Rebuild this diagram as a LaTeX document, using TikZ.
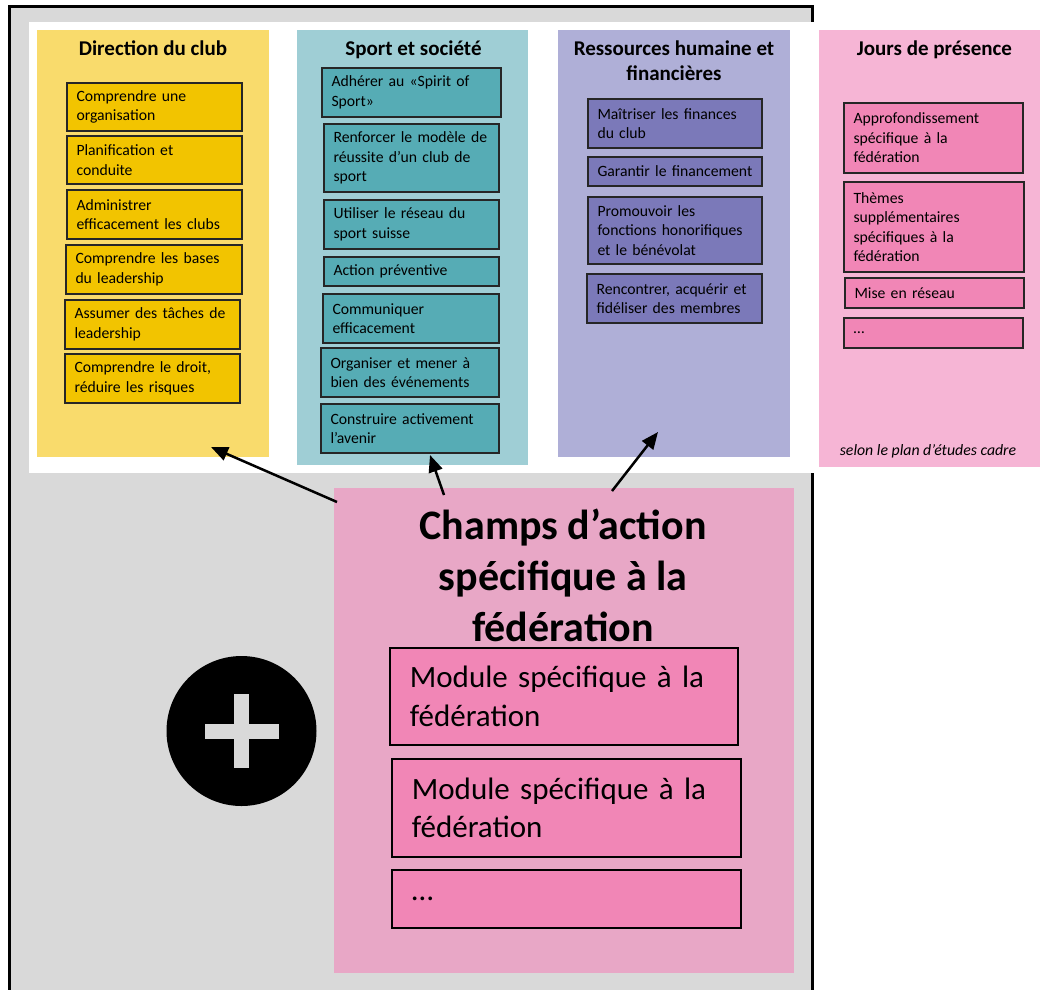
\documentclass[tikz,border=0pt]{standalone}
\usepackage{fontspec}
\setmainfont{Carlito}
\usetikzlibrary{arrows.meta}
\definecolor{bggray}{HTML}{D9D9D9}
\definecolor{ycol}{HTML}{F9DB6C}
\definecolor{yboxc}{HTML}{F2C400}
\definecolor{tcol}{HTML}{9FCED5}
\definecolor{tboxc}{HTML}{56ACB5}
\definecolor{pcol}{HTML}{AFAFD7}
\definecolor{pboxc}{HTML}{7B79B9}
\definecolor{kcol}{HTML}{F6B5D5}
\definecolor{kboxc}{HTML}{F186B6}
\definecolor{bigpink}{HTML}{E8A7C6}
\newcommand\ibx[7]{%
  \pgfmathsetmacro\tw{#5-#3-19}%
  \pgfmathsetmacro\bh{#6-#4}%
  \node[#2, text width=\tw pt, minimum height=\bh pt] (#1) at (#3,#4) {#7};}
\begin{document}
\begin{tikzpicture}[x=1pt,y=-1pt,
  colbox/.style={anchor=north west, inner sep=0pt, outer sep=0pt},
  itembox/.style={anchor=north west, draw=black!85, line width=1.2pt, inner xsep=9.5pt, inner ysep=0pt, outer sep=0pt, align=left, font=\fontsize{15.7}{19.5}\selectfont},
  yb/.style={itembox, fill=yboxc},
  tb/.style={itembox, fill=tboxc},
  pb/.style={itembox, fill=pboxc},
  kb/.style={itembox, fill=kboxc},
  coltitle/.style={anchor=base, inner sep=0pt, font=\fontsize{21}{25}\selectfont\bfseries},
  modbox/.style={anchor=north west, draw=black, line width=1.8pt, fill=kboxc, inner xsep=20pt, inner ysep=0pt, align=left, font=\fontsize{31}{38.5}\selectfont},
  arr/.style={line width=2.5pt, -{Triangle[length=17pt,width=14pt]}}
]
\useasboundingbox (0,0) rectangle (1043,989);
% background frames
\draw[fill=bggray, line width=3pt] (9.5,6.5) rectangle (812,1000);
\fill[white] (29,22) rectangle (1043,473);
% columns
\node[colbox, fill=ycol, minimum width=232pt, minimum height=427pt] (c1) at (37,30) {};
\node[colbox, fill=tcol, minimum width=231pt, minimum height=435pt] (c2) at (297,30) {};
\node[colbox, fill=pcol, minimum width=232pt, minimum height=427pt] (c3) at (558,30) {};
\node[colbox, fill=kcol, minimum width=221pt, minimum height=437pt] (c4) at (819,30) {};
% titles
\node[coltitle] (t1) at (153,55) {Direction du club};
\node[coltitle] (t2) at (413.5,55) {Sport et société};
\node[coltitle] (t3a) at (674,55) {Ressources humaine et};
\node[coltitle] (t3b) at (674,80) {financières};
\node[coltitle] (t4) at (934.5,55) {Jours de présence};
\node[anchor=base, inner sep=0pt, font=\fontsize{15.8}{18}\selectfont\itshape] (note) at (928,455) {selon le plan d'études cadre};
% yellow items
\ibx{y1}{yb}{67}{83}{242}{131}{Comprendre une\\organisation}
\ibx{y2}{yb}{67}{136}{242}{184}{Planification et\\conduite}
\ibx{y3}{yb}{67}{190}{242}{239}{Administrer\\efficacement les clubs}
\ibx{y4}{yb}{66}{245}{242}{294}{Comprendre les bases\\du leadership}
\ibx{y5}{yb}{65}{300}{240}{349}{Assumer des tâches de\\leadership}
\ibx{y6}{yb}{65}{354}{240}{403}{Comprendre le droit,\\réduire les risques}
% teal items
\ibx{s1}{tb}{322}{68}{501}{117}{Adhérer au «Spirit of\\Sport»}
\ibx{s2}{tb}{324}{124}{499}{192}{Renforcer le modèle de\\réussite d’un club de\\sport}
\ibx{s3}{tb}{324}{200}{499}{249}{Utiliser le réseau du\\sport suisse}
\ibx{s4}{tb}{324}{257}{499}{286}{Action préventive}
\ibx{s5}{tb}{323}{294}{499}{343}{Communiquer\\efficacement}
\ibx{s6}{tb}{321}{348}{499}{397}{Organiser et mener à\\bien des événements}
\ibx{s7}{tb}{321}{404}{499}{453}{Construire activement\\l’avenir}
% purple items
\ibx{r1}{pb}{588}{99}{762}{148}{Maîtriser les finances\\du club}
\ibx{r2}{pb}{588}{157}{762}{186}{Garantir le financement}
\ibx{r3}{pb}{588}{197}{762}{264}{Promouvoir les\\fonctions honorifiques\\et le bénévolat}
\ibx{r4}{pb}{587}{274}{762}{323}{Rencontrer, acquérir et\\fidéliser des membres}
% pink items
\ibx{j1}{kb}{844}{103}{1023}{173}{Approfondissement\\spécifique à la\\fédération}
\ibx{j2}{kb}{844}{182}{1024}{272}{Thèmes\\supplémentaires\\spécifiques à la\\fédération}
\ibx{j3}{kb}{845}{278}{1024}{308}{Mise en réseau}
\ibx{j4}{kb}{844}{318}{1023}{348}{…}
% big pink box
\node[colbox, fill=bigpink, minimum width=460pt, minimum height=485pt] (big) at (334,488) {};
\node[anchor=north, align=center, inner sep=0pt, font=\fontsize{42}{50.7}\selectfont\bfseries] (bigtitle) at (563,509) {Champs d’action\\spécifique à la\\fédération};
\node[modbox, text width=308pt, minimum height=97pt] (m1) at (389,647) {Module spécifique à la\\fédération};
\node[modbox, text width=309pt, minimum height=98pt] (m2) at (391,758) {Module spécifique à la\\fédération};
\node[modbox, text width=309pt, minimum height=58pt] (m3) at (391,869) {…};
% plus circle
\node[circle, fill=black, minimum size=150pt, inner sep=0pt] (plus) at (241.5,731) {};
\fill[bggray] (204.5,724) rectangle (278.5,739);
\fill[bggray] (233.5,694) rectangle (249,768);
% arrows
\coordinate (a1s) at (337,502);
\coordinate (a1e) at (211,447);
\coordinate (a2s) at (444,495);
\coordinate (a2e) at (430,455);
\coordinate (a3s) at (612,491);
\coordinate (a3e) at (658,432);
\draw[arr] (a1s) -- (a1e);
\draw[arr] (a2s) -- (a2e);
\draw[arr] (a3s) -- (a3e);
\end{tikzpicture}
\end{document}
